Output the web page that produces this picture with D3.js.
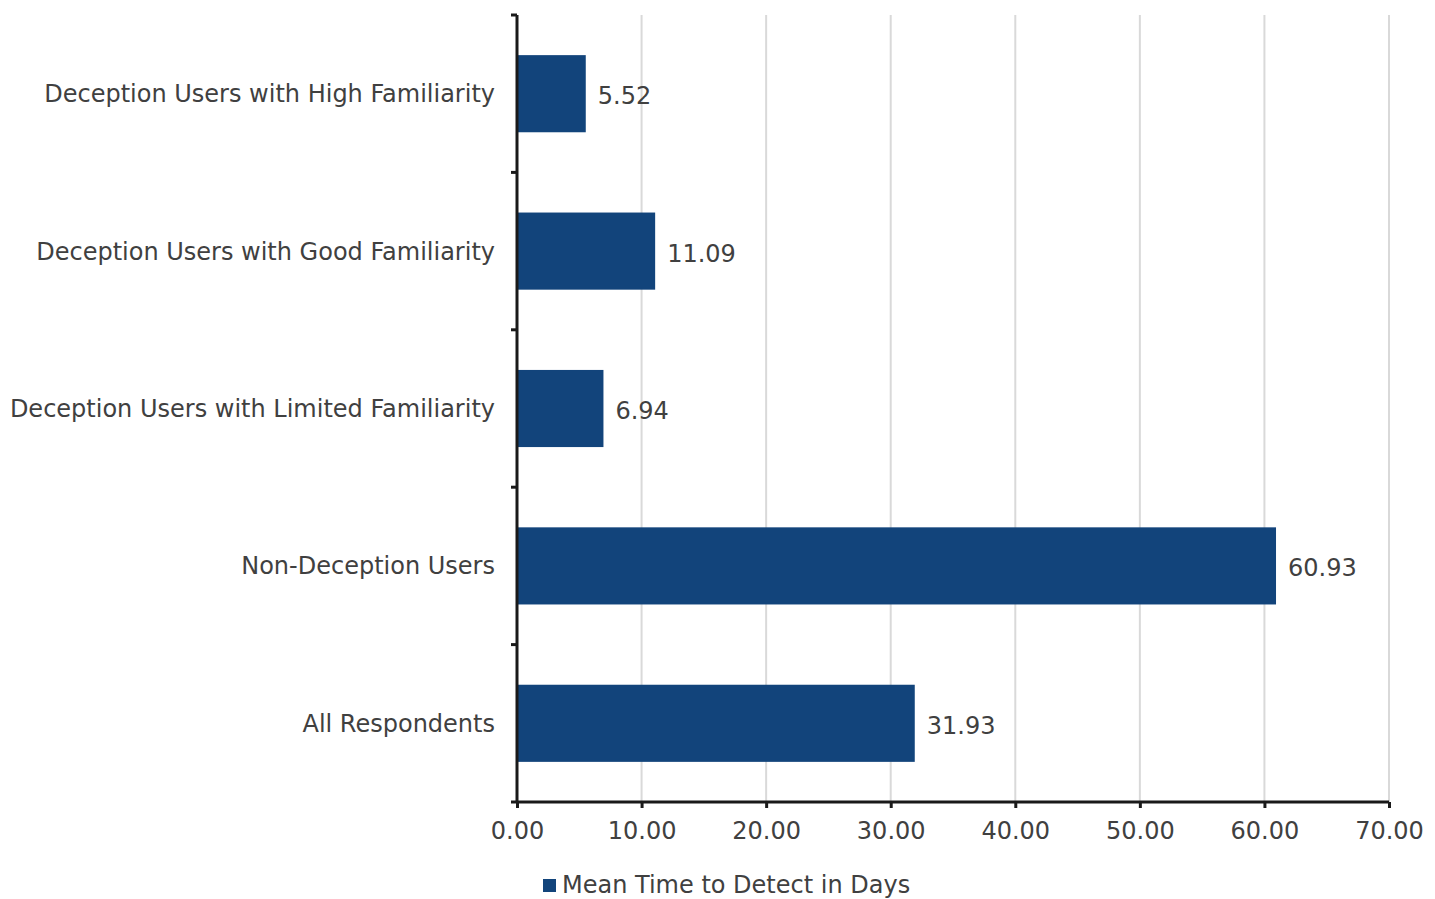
<!DOCTYPE html>
<html lang="en">
<head>
  <meta charset="UTF-8" />
  <title>Mean Time to Detect</title>
  <script src="https://d3js.org/d3.v7.min.js"></script>
  <style>
    body { margin: 0; background: #fff; }
    svg text { font-family: 'DejaVu Sans', Verdana, sans-serif; fill: #404040; }
  </style>
</head>
<body>
  <svg id="chart" width="1435" height="899"></svg>
  <script>
    // Data
    const categories = [
      "Deception Users with High Familiarity",
      "Deception Users with Good Familiarity",
      "Deception Users with Limited Familiarity",
      "Non-Deception Users",
      "All Respondents"
    ];
    const values = [5.52, 11.09, 6.94, 60.93, 31.93];
    const xTicks = [0, 10, 20, 30, 40, 50, 60, 70];
    const seriesName = "Mean Time to Detect in Days";

    const barColor = "#12447b";
    const fontSize = 24;
    const margin = { top: 15, left: 517, right: 46, bottom: 97 };
    const width = 1435, height = 899;
    const innerW = width - margin.left - margin.right;
    const innerH = height - margin.top - margin.bottom;

    const svg = d3.select("#chart");
    const g = svg.append("g").attr("transform", `translate(${margin.left},${margin.top})`);

    const x = d3.scaleLinear().domain([0, 70]).range([0, innerW]);
    const y = d3.scaleBand().domain(categories).range([0, innerH])
      .paddingInner(0.51).paddingOuter(0.255);

    // gridlines
    g.selectAll(".grid")
      .data(xTicks.slice(1))
      .enter().append("line")
      .attr("x1", d => x(d)).attr("x2", d => x(d))
      .attr("y1", 0).attr("y2", innerH)
      .attr("stroke", "#d9d9d9").attr("stroke-width", 2);

    // bars
    g.selectAll(".bar")
      .data(values)
      .enter().append("rect")
      .attr("x", 0)
      .attr("y", (d, i) => y(categories[i]))
      .attr("width", d => x(d))
      .attr("height", y.bandwidth())
      .attr("fill", barColor);

    // value labels
    g.selectAll(".val")
      .data(values)
      .enter().append("text")
      .attr("x", d => x(d) + 12)
      .attr("y", (d, i) => y(categories[i]) + y.bandwidth() / 2 + 2)
      .attr("dy", "0.35em")
      .attr("font-size", fontSize)
      .text(d => d.toFixed(2));

    // x axis
    const xAxis = d3.axisBottom(x).tickValues(xTicks).tickFormat(d => d.toFixed(2))
      .tickSize(6).tickPadding(14);
    const xg = g.append("g").attr("transform", `translate(0,${innerH})`).call(xAxis);
    xg.select(".domain").attr("stroke", "#1a1a1a").attr("stroke-width", 3)
      .attr("d", `M0,0H${innerW}`);
    xg.selectAll(".tick line").attr("stroke", "#1a1a1a").attr("stroke-width", 3);
    xg.selectAll(".tick text").attr("font-size", fontSize).attr("font-family", null);

    // y axis line with ticks at band boundaries
    const gap = (y.step() - y.bandwidth()) / 2;
    const bounds = categories.map(c => y(c) - gap).concat([innerH]);
    g.append("line").attr("x1", 0).attr("x2", 0).attr("y1", 0).attr("y2", innerH)
      .attr("stroke", "#1a1a1a").attr("stroke-width", 3);
    g.selectAll(".ytick")
      .data(bounds)
      .enter().append("line")
      .attr("x1", -6).attr("x2", 0)
      .attr("y1", d => d).attr("y2", d => d)
      .attr("stroke", "#1a1a1a").attr("stroke-width", 3);

    // category labels
    g.selectAll(".cat")
      .data(categories)
      .enter().append("text")
      .attr("x", -22)
      .attr("y", d => y(d) + y.bandwidth() / 2)
      .attr("dy", "0.35em")
      .attr("text-anchor", "end")
      .attr("font-size", fontSize)
      .text(d => d);

    // legend
    const leg = svg.append("g").attr("transform", "translate(543,885)");
    leg.append("rect").attr("x", 0).attr("y", -6).attr("width", 13).attr("height", 13).attr("fill", barColor);
    leg.append("text").attr("x", 19).attr("y", 0).attr("dy", "0.35em")
      .attr("font-size", fontSize).text(seriesName);
  </script>
</body>
</html>
